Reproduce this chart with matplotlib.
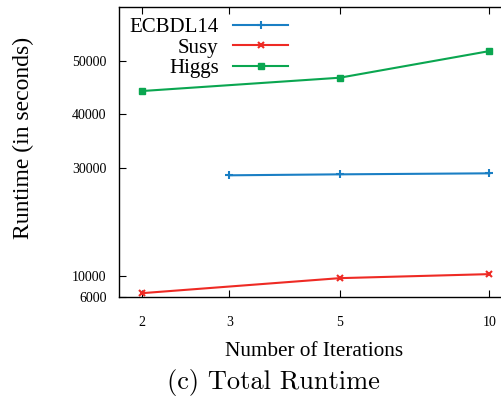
import matplotlib.pyplot as plt

iterations = [2, 3, 5, 10]
ecbdl14_iters = [3, 5, 10]
ecbdl14_runtime = [28660, 28840, 29030]
susy_iters = [2, 5, 10]
susy_runtime = [6710, 9510, 10260]
higgs_iters = [2, 5, 10]
higgs_runtime = [44350, 46830, 51790]
y_ticks = [6000, 10000, 30000, 40000, 50000]

plt.rcParams['font.family'] = ['Liberation Serif', 'DejaVu Serif']

fig = plt.figure(figsize=(5.02, 4.07), dpi=100)
ax = fig.add_axes([119 / 502, 1 - 297 / 407, (502 - 119) / 502, 290 / 407])

ax.plot(ecbdl14_iters, ecbdl14_runtime, color='#1a7fc4', marker='+',
        markersize=6, markeredgewidth=1.5, linewidth=1.5, label='ECBDL14')
ax.plot(susy_iters, susy_runtime, color='#ee2a24', marker='x',
        markersize=5, markeredgewidth=1.5, linewidth=1.5, label='Susy')
ax.plot(higgs_iters, higgs_runtime, color='#0aa650', marker='s',
        markersize=4, linewidth=1.5, label='Higgs')

ax.set_xscale('log')
ax.set_xlim(1.8, 10.6)
ax.set_ylim(6000, 60000)
ax.set_xticks(iterations)
ax.set_xticklabels([str(i) for i in iterations])
ax.minorticks_off()
ax.set_yticks(y_ticks)
ax.set_yticklabels([str(v) for v in y_ticks])

ax.spines['right'].set_visible(False)
for s in ['left', 'top', 'bottom']:
    ax.spines[s].set_linewidth(1.0)
ax.tick_params(axis='x', direction='in', top=True, length=5, pad=14, labelsize=10)
ax.tick_params(axis='y', direction='in', length=5, pad=9, labelsize=10)

leg = ax.legend(loc='upper left', markerfirst=False, frameon=False,
                fontsize=15, handlelength=2.65, labelspacing=0.05,
                borderaxespad=0.1, handletextpad=0.7,
                bbox_to_anchor=(0.0, 1.0))
for t in leg.get_texts():
    t.set_ha('right')
leg._legend_box.align = 'right'

fig.text(314 / 502, 1 - 352 / 407, 'Number of Iterations', ha='center',
         va='center', fontsize=15.3)
fig.text(23 / 502, 1 - 138 / 407, 'Runtime (in seconds)', rotation=90,
         ha='center', va='center', fontsize=17)
fig.text(273 / 502, 1 - 382 / 407, '(c) Total Runtime', ha='center',
         va='center', fontsize=19, family=['cmr10', 'DejaVu Serif'])

fig.savefig('out.png', dpi=100)
